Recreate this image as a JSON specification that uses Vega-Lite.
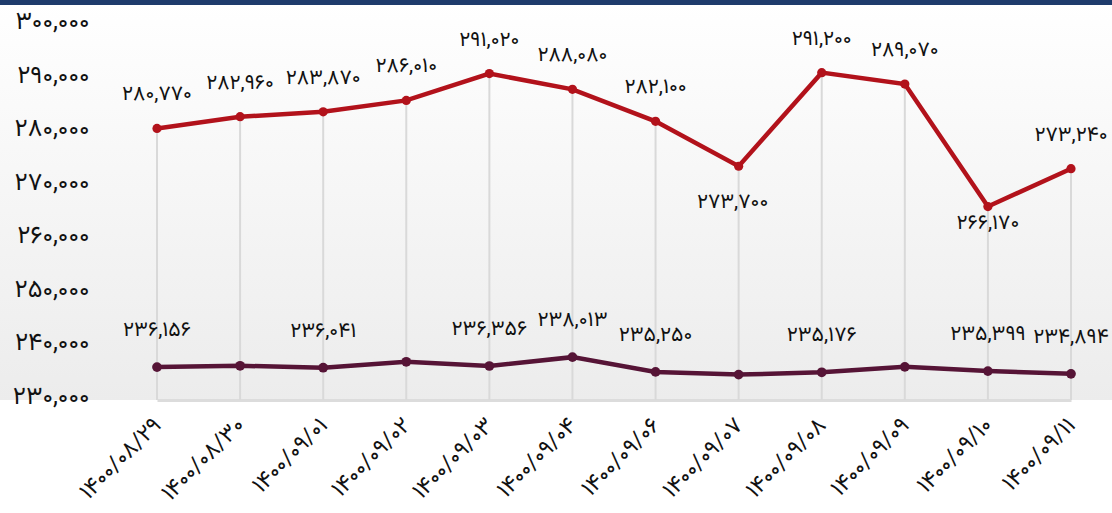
{
  "$schema": "https://vega.github.io/schema/vega-lite/v6.json",
  "autosize": {"type": "none"},
  "width": 1112,
  "height": 400,
  "padding": {"left": 0, "top": 0, "right": 0, "bottom": 113},
  "background": "#ffffff",
  "config": {
    "locale": {
      "number": {
        "decimal": ".",
        "thousands": ",",
        "grouping": [3],
        "currency": ["", ""],
        "numerals": ["۰", "۱", "۲", "۳", "۴", "۵", "۶", "۷", "۸", "۹"]
      }
    },
    "font": "Vazirmatn, 'Noto Sans Arabic', 'Noto Naskh Arabic', 'Noto Sans Arabic UI', 'DejaVu Sans'",
    "view": {
      "stroke": null,
      "fill": {
        "gradient": "linear",
        "x1": 0, "y1": 0, "x2": 0, "y2": 1,
        "stops": [
          {"offset": 0, "color": "#ffffff"},
          {"offset": 1, "color": "#ececec"}
        ]
      }
    }
  },
  "data": {
    "values": [
      {"date": "۱۴۰۰/۰۸/۲۹", "top": 280770, "bottom": 236156},
      {"date": "۱۴۰۰/۰۸/۳۰", "top": 282960, "bottom": 236400},
      {"date": "۱۴۰۰/۰۹/۰۱", "top": 283870, "bottom": 236041},
      {"date": "۱۴۰۰/۰۹/۰۲", "top": 286010, "bottom": 237150},
      {"date": "۱۴۰۰/۰۹/۰۳", "top": 291020, "bottom": 236356},
      {"date": "۱۴۰۰/۰۹/۰۴", "top": 288080, "bottom": 238013},
      {"date": "۱۴۰۰/۰۹/۰۶", "top": 282100, "bottom": 235250},
      {"date": "۱۴۰۰/۰۹/۰۷", "top": 273700, "bottom": 234750},
      {"date": "۱۴۰۰/۰۹/۰۸", "top": 291200, "bottom": 235176},
      {"date": "۱۴۰۰/۰۹/۰۹", "top": 289070, "bottom": 236200},
      {"date": "۱۴۰۰/۰۹/۱۰", "top": 266170, "bottom": 235399},
      {"date": "۱۴۰۰/۰۹/۱۱", "top": 273240, "bottom": 234894}
    ]
  },
  "encoding": {
    "x": {
      "field": "date",
      "type": "ordinal",
      "sort": null,
      "scale": {"type": "point", "padding": 0, "range": [157, 1071]},
      "axis": {
        "title": null,
        "domain": true,
        "domainColor": "#dcdcdc",
        "domainWidth": 3,
        "ticks": false,
        "grid": false,
        "labelAngle": -45,
        "labelAlign": "right",
        "labelBaseline": "middle",
        "labelPadding": 21,
        "labelFontSize": 23,
        "labelColor": "#111111",
        "labelOverlap": false,
        "labelBound": false,
        "labelFlush": false
      }
    }
  },
  "layer": [
    {
      "mark": {"type": "rule", "color": "#1e3b6c", "strokeWidth": 10},
      "encoding": {
        "x": null,
        "y": {"datum": 304780, "type": "quantitative", "scale": {"domain": [230000, 304780], "nice": false, "zero": false}}
      }
    },
    {
      "mark": {"type": "rule", "color": "#d9d9d9", "strokeWidth": 2},
      "encoding": {
        "y": {
          "field": "top",
          "type": "quantitative",
          "scale": {"domain": [230000, 304780], "nice": false, "zero": false},
          "axis": {
            "title": null,
            "orient": "left",
            "values": [230000, 240000, 250000, 260000, 270000, 280000, 290000, 300000],
            "format": ",d",
            "domain": false,
            "ticks": false,
            "grid": false,
            "labelAlign": "right",
            "labelBaseline": "middle",
            "labelPadding": -89,
            "labelOffset": -5,
            "labelFontSize": 25,
            "labelColor": "#111111",
            "labelOverlap": false,
            "labelBound": false,
            "labelFlush": false
          }
        },
        "y2": {"datum": 230000}
      }
    },
    {
      "mark": {"type": "line", "color": "#561436", "strokeWidth": 4.5},
      "encoding": {"y": {"field": "bottom", "type": "quantitative"}}
    },
    {
      "mark": {"type": "point", "filled": true, "opacity": 1, "color": "#561436", "size": 95},
      "encoding": {"y": {"field": "bottom", "type": "quantitative"}}
    },
    {
      "mark": {"type": "line", "color": "#b2121b", "strokeWidth": 4.5},
      "encoding": {"y": {"field": "top", "type": "quantitative"}}
    },
    {
      "mark": {"type": "point", "filled": true, "opacity": 1, "color": "#b2121b", "size": 85},
      "encoding": {"y": {"field": "top", "type": "quantitative"}}
    },
    {
      "transform": [{"filter": "indexof(['۱۴۰۰/۰۹/۰۷', '۱۴۰۰/۰۹/۱۰'], datum.date) < 0"}],
      "mark": {"type": "text", "fontSize": 21, "color": "#111111", "baseline": "middle", "dy": -34},
      "encoding": {
        "y": {"field": "top", "type": "quantitative"},
        "text": {"field": "top", "type": "quantitative", "format": ",d"}
      }
    },
    {
      "transform": [{"filter": "datum.date == '۱۴۰۰/۰۹/۰۷'"}],
      "mark": {"type": "text", "fontSize": 21, "color": "#111111", "baseline": "middle", "dy": 36, "dx": -6},
      "encoding": {
        "y": {"field": "top", "type": "quantitative"},
        "text": {"field": "top", "type": "quantitative", "format": ",d"}
      }
    },
    {
      "transform": [{"filter": "datum.date == '۱۴۰۰/۰۹/۱۰'"}],
      "mark": {"type": "text", "fontSize": 21, "color": "#111111", "baseline": "middle", "dy": 16},
      "encoding": {
        "y": {"field": "top", "type": "quantitative"},
        "text": {"field": "top", "type": "quantitative", "format": ",d"}
      }
    },
    {
      "transform": [{"filter": "indexof(['۱۴۰۰/۰۸/۳۰', '۱۴۰۰/۰۹/۰۲', '۱۴۰۰/۰۹/۰۷', '۱۴۰۰/۰۹/۰۹'], datum.date) < 0"}],
      "mark": {"type": "text", "fontSize": 21, "color": "#111111", "baseline": "middle", "dy": -37},
      "encoding": {
        "y": {"field": "bottom", "type": "quantitative"},
        "text": {"field": "bottom", "type": "quantitative", "format": ",d"}
      }
    }
  ]
}
